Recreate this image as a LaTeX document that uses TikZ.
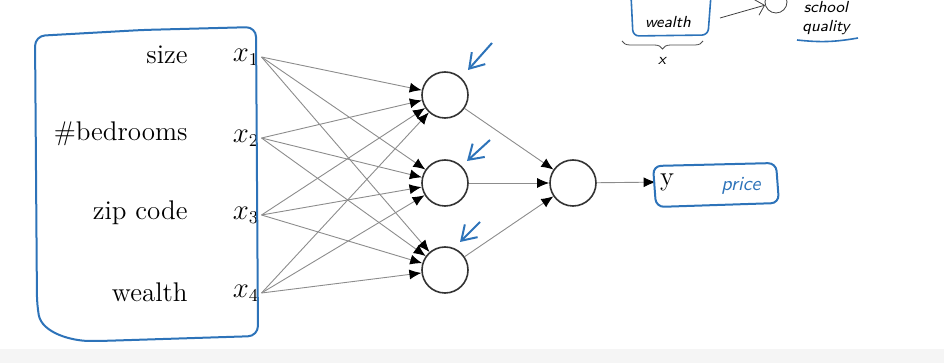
\documentclass[tikz,border=0pt]{standalone}
\usetikzlibrary{arrows.meta,decorations.pathreplacing}
\definecolor{inkblue}{RGB}{45,115,185}

\begin{document}
\begin{tikzpicture}[x=0.5pt, y=-0.5pt, font=\fontsize{13.5}{16}\selectfont,
  neuron/.style={draw=black!80, thick, circle, minimum size=23pt, inner sep=0pt},
  wire/.style={draw=black!45, line width=0.45pt, -{Latex[length=6pt,width=5pt,color=black]}},
  ink/.style={draw=inkblue, line width=1pt, line join=round},
  scrawl/.style={font=\sffamily\itshape\footnotesize, inner sep=0pt},
  feat/.style={anchor=east, inner sep=1pt}]
  \clip (0,0) rectangle (944,363);
  \fill[black!4] (0,349) rectangle (944,363);

  % inputs
  \node[feat] (size) at (190,55) {size};
  \node[feat] (bed) at (190,134) {\#bedrooms};
  \node[feat] (zip) at (190,213) {zip code};
  \node[feat] (wlth) at (190,292) {wealth};
  \node[inner sep=1pt] (x1) at (246,57) {$x_1$};
  \node[inner sep=1pt] (x2) at (246,138) {$x_2$};
  \node[inner sep=1pt] (x3) at (246,215) {$x_3$};
  \node[inner sep=1pt] (x4) at (246,293) {$x_4$};

  % hidden layer and output
  \node[neuron] (h1) at (445,95) {};
  \node[neuron] (h2) at (445,183) {};
  \node[neuron] (h3) at (445,270) {};
  \node[neuron] (out) at (573,183) {};
  \node[inner sep=2pt] (y) at (667,182) {y};

  \foreach \i in {1,...,4}
    \foreach \j in {1,2,3}
      \draw[wire] (x\i.east) -- (h\j);
  \foreach \j in {1,2,3}
    \draw[wire] (h\j) -- (out);
  \draw[wire] (out) -- (y);

  % pen notes
  \draw[ink, rounded corners=5pt] (258,336) -- (100,341) to[out=180, in=-80] (37,305)
    -- (35,36) -- (142,30) -- (256,27) -- cycle;
  \draw[ink, rounded corners=4pt] (653,166) -- (776,163) -- (779,203) -- (656,207) -- cycle;
  \node[scrawl, text=inkblue, font=\sffamily\itshape] (price) at (741,186) {price};

  \coordinate (a1) at (492,43);  \coordinate (b1) at (468,70);
  \coordinate (a2) at (490,140); \coordinate (b2) at (467,161);
  \coordinate (a3) at (480,222); \coordinate (b3) at (460,242);
  \foreach \k in {1,2,3}
    \draw[ink, -{Straight Barb[length=7pt,width=9pt]}] (a\k) -- (b\k);

  % top right corner
  \draw[ink, line width=0.8pt, rounded corners=3pt] (631,-5) -- (633,36) -- (708,35) -- (711,-5);
  \node[scrawl] (wnote) at (668,22) {wealth};
  \draw[black!70, decorate, decoration={brace, amplitude=4pt, mirror}] (622,41) -- (703,41);
  \node[scrawl] (xnote) at (662,61) {x};
  \node[draw=black!75, circle, minimum size=11pt, inner sep=0pt] (sq) at (776,2) {};
  \coordinate (wx) at (720,18);
  \draw[black!75, -{Straight Barb[length=4pt]}] (wx) -- (sq);
  \node[scrawl, align=center] (school) at (826,18) {school\\quality};
  \draw[ink, line width=0.8pt] (797,40) to[bend right=8] (858,38);
\end{tikzpicture}
\end{document}
